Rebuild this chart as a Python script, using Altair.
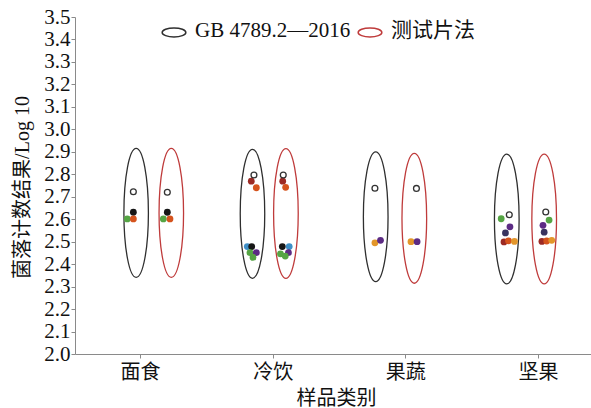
import altair as alt
import pandas as pd

# ---- data -------------------------------------------------------------
categories = ["面食", "冷饮", "果蔬", "坚果"]
methods = ["GB 4789.2—2016", "测试片法"]
y_ticks = [2.0, 2.1, 2.2, 2.3, 2.4, 2.5, 2.6, 2.7, 2.8, 2.9,
           3.0, 3.1, 3.2, 3.3, 3.4, 3.5]

# envelope of each method's results per category (x in category units, log10 bounds)
env_method = [methods[0], methods[1]] * 4
env_x = [0.971, 1.236, 1.848, 2.100, 2.777, 3.068, 3.765, 4.047]
env_low = [2.341, 2.341, 2.337, 2.337, 2.322, 2.315, 2.312, 2.312]
env_high = [2.915, 2.915, 2.911, 2.914, 2.900, 2.893, 2.890, 2.890]

# individual sample results; "s0" is the reference sample (hollow marker)
pt_method = (
    ["GB"] * 4 + ["T"] * 4 +            # 面食
    ["GB"] * 8 + ["T"] * 8 +            # 冷饮
    ["GB"] * 3 + ["T"] * 3 +            # 果蔬
    ["GB"] * 7 + ["T"] * 7              # 坚果
)
pt_sample = (
    ["s0", "s1", "s2", "s3"] + ["s0", "s1", "s2", "s3"] +
    ["s0", "s4", "s3", "s5", "s1", "s2", "s6", "s2"] +
    ["s0", "s4", "s3", "s1", "s5", "s2", "s6", "s2"] +
    ["s0", "s8", "s6"] + ["s0", "s8", "s6"] +
    ["s2", "s0", "s6", "s7", "s4", "s3", "s8"] +
    ["s0", "s2", "s6", "s7", "s4", "s3", "s8"]
)
pt_x = [
    0.950, 0.950, 0.904, 0.950,
    1.206, 1.206, 1.176, 1.226,
    1.859, 1.839, 1.877, 1.809, 1.842, 1.829, 1.877, 1.852,
    2.080, 2.076, 2.098, 2.073, 2.125, 2.059, 2.119, 2.095,
    2.771, 2.771, 2.813,
    3.084, 3.043, 3.089,
    3.723, 3.784, 3.789, 3.755, 3.744, 3.778, 3.823,
    4.059, 4.084, 4.038, 4.047, 4.030, 4.066, 4.104,
]
pt_y = [
    2.722, 2.631, 2.601, 2.601,
    2.720, 2.631, 2.601, 2.601,
    2.797, 2.769, 2.740, 2.478, 2.478, 2.451, 2.451, 2.430,
    2.797, 2.769, 2.742, 2.478, 2.478, 2.446, 2.451, 2.436,
    2.738, 2.495, 2.506,
    2.737, 2.500, 2.500,
    2.602, 2.620, 2.566, 2.539, 2.499, 2.504, 2.501,
    2.632, 2.596, 2.573, 2.542, 2.501, 2.503, 2.506,
]

sample_keys = ["s1", "s2", "s3", "s4", "s5", "s6", "s7", "s8"]
sample_colors = ["#161616", "#55a544", "#d5531d", "#9c2a24",
                 "#3e8fc7", "#5c2b84", "#38335f", "#e3962a"]

env = pd.DataFrame({"method": env_method, "x": env_x,
                    "lo": env_low, "hi": env_high})
pts = pd.DataFrame({"method": pt_method, "sample": pt_sample,
                    "x": pt_x, "y": pt_y})

# ---- layout -----------------------------------------------------------
PLOT_W, PLOT_H = 516, 337
Y_DOMAIN = [2.0, 3.5]
PX_PER_UNIT = PLOT_H / (Y_DOMAIN[1] - Y_DOMAIN[0])
SERIF = "Liberation Serif, Noto Sans CJK SC"

# tall ellipse outline, unit box [-1, 1]
a, k = 0.19, 0.5523
ELLIPSE_V = (f"M0,-1 C{a*k:.4f},-1 {a},-{k} {a},0 C{a},{k} {a*k:.4f},1 0,1 "
             f"C-{a*k:.4f},1 -{a},{k} -{a},0 C-{a},-{k} -{a*k:.4f},-1 0,-1 Z")
# flat ellipse used as legend symbol
b, d = 0.38, 0.12
ELLIPSE_H = (f"M-1,{d} C-1,{d-b*k:.4f} -{k},{d-b:.4f} 0,{d-b:.4f} "
             f"C{k},{d-b:.4f} 1,{d-b*k:.4f} 1,{d} C1,{d+b*k:.4f} {k},{d+b:.4f} 0,{d+b:.4f} "
             f"C-{k},{d+b:.4f} -1,{d+b*k:.4f} -1,{d} Z")

label_expr = "[" + ",".join(f"'{c}'" for c in categories) + "][datum.value - 1]"

x_scale = alt.Scale(domain=[0.51, 4.4], nice=False, zero=False)
x_axis = alt.Axis(values=[1, 2, 3, 4], labelExpr=label_expr, title="样品类别",
                  labelFont=SERIF, labelFontSize=20, labelPadding=4,
                  labelOverlap=False,
                  titleFont=SERIF, titleFontSize=20, titleFontWeight="normal",
                  titleX=261, titleY=44, titleBaseline="middle", titleAlign="center",
                  grid=False)
y_scale = alt.Scale(domain=Y_DOMAIN, nice=False, zero=False)
y_axis = alt.Axis(values=y_ticks, format=".1f", title="菌落计数结果/Log 10",
                  labelFont=SERIF, labelFontSize=21, labelPadding=1,
                  labelOverlap=False, labelFlush=False, labelBound=False,
                  titleFont=SERIF, titleFontSize=20, titleFontWeight="normal",
                  titleX=-53, titleY=170, titleAngle=-90,
                  titleBaseline="middle", titleAlign="center", grid=False)


def xpos():
    return alt.X("x:Q", scale=x_scale, axis=x_axis)


def ypos(field):
    return alt.Y(f"{field}:Q", scale=y_scale, axis=y_axis)


envelopes = alt.Chart(env).mark_point(
    shape=ELLIPSE_V, filled=False, strokeWidth=1.3, opacity=1
).transform_calculate(
    yc="(datum.lo + datum.hi) / 2",
    sz=f"pow((datum.hi - datum.lo) * {PX_PER_UNIT}, 2)",
).encode(
    x=xpos(),
    y=ypos("yc"),
    size=alt.Size("sz:Q", scale=None),
    stroke=alt.Stroke(
        "method:N",
        scale=alt.Scale(domain=methods, range=["#2f2f2f", "#bf3b3b"]),
        legend=alt.Legend(
            title=None, orient="none", direction="horizontal",
            legendX=86, legendY=1, padding=0,
            symbolType=ELLIPSE_H, symbolSize=560, symbolStrokeWidth=1.5,
            symbolFillColor="transparent",
            labelFont=SERIF, labelFontSize=21, labelColor="#111",
            labelOffset=8, columnPadding=4,
        ),
    ),
)

dots = alt.Chart(pts).transform_filter(
    "datum.sample != 's0'"
).mark_circle(size=46, opacity=1).encode(
    x=xpos(),
    y=ypos("y"),
    color=alt.Color("sample:N",
                    scale=alt.Scale(domain=sample_keys, range=sample_colors),
                    legend=None),
)

hollow = alt.Chart(pts).transform_filter(
    "datum.sample == 's0'"
).mark_point(size=34, filled=False, stroke="#333333", fill="white",
             fillOpacity=1, strokeWidth=1.3, opacity=1).encode(
    x=xpos(),
    y=ypos("y"),
)

chart = alt.layer(envelopes, dots, hollow).properties(
    width=PLOT_W, height=PLOT_H,
    autosize=alt.AutoSizeParams(type="none"),
    padding={"left": 75, "top": 17, "right": 0, "bottom": 54},
).configure_view(
    stroke=None
).configure_axis(
    domainColor="#8a8a8a", tickColor="#8a8a8a", tickSize=4,
    labelColor="#111111", titleColor="#111111",
)

chart.save("out.html", embed_options={"renderer": "svg", "actions": False})
